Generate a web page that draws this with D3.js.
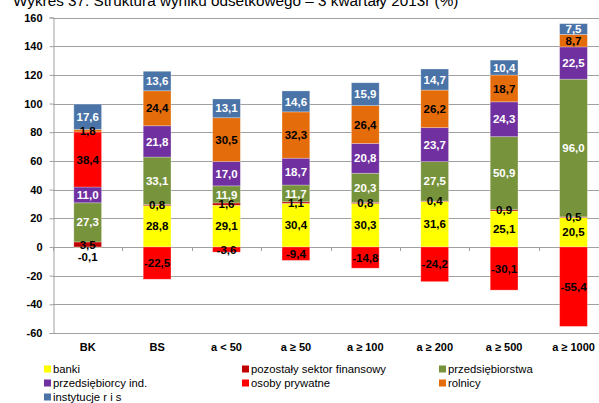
<!DOCTYPE html>
<html>
<head>
<meta charset="utf-8">
<script src="https://cdn.jsdelivr.net/npm/d3@7"></script>
<style>
  html, body { margin: 0; padding: 0; background: #fff; }
  svg { display: block; }
</style>
</head>
<body>
<script>
const categories = ["BK", "BS", "a < 50", "a ≥ 50", "a ≥ 100", "a ≥ 200", "a ≥ 500", "a ≥ 1000"];
const banki = [-0.1, 28.8, 29.1, 30.4, 30.3, 31.6, 25.1, 20.5];
const pozostalySektor = [3.5, 0.8, 1.6, 1.1, 0.8, 0.4, 0.9, 0.5];
const przedsiebiorstwa = [27.3, 33.1, 11.9, 11.7, 20.3, 27.5, 50.9, 96.0];
const przedsiebiorcyInd = [11.0, 21.8, 17.0, 18.7, 20.8, 23.7, 24.3, 22.5];
const osobyPrywatne = [38.4, -22.5, -3.6, -9.4, -14.8, -24.2, -30.1, -55.4];
const rolnicy = [1.8, 24.4, 30.5, 32.3, 26.4, 26.2, 18.7, 8.7];
const instytucje = [17.6, 13.6, 13.1, 14.6, 15.9, 14.7, 10.4, 7.5];
const seriesNames = ["banki", "pozostały sektor finansowy", "przedsiębiorstwa", "przedsiębiorcy ind.", "osoby prywatne", "rolnicy", "instytucje r i s"];
const seriesColors = ["#FFFF00", "#C00000", "#77933C", "#7030A0", "#FF0000", "#E46C0A", "#4A74A8"];
const labelColors = ["#000", "#000", "#fff", "#fff", "#000", "#000", "#fff"];
const yTicks = [-60, -40, -20, 0, 20, 40, 60, 80, 100, 120, 140, 160];
const title = "Wykres 37. Struktura wyniku odsetkowego – 3 kwartały 2013r (%)";

(function () {
const seriesValues = [banki, pozostalySektor, przedsiebiorstwa, przedsiebiorcyInd, osobyPrywatne, rolnicy, instytucje];
const W = 599, H = 403;
const plotLeft = 53, step = 69.4, plotTop = 17.5, plotBottom = 333;

const rows = categories.map((c, i) => {
  const r = { cat: c };
  seriesNames.forEach((s, j) => r[s] = seriesValues[j][i]);
  return r;
});
const stacked = d3.stack().keys(seriesNames).offset(d3.stackOffsetDiverging)(rows);

const svg = d3.select("body").append("svg").attr("width", W).attr("height", H)
  .style("font-family", "'Liberation Sans', Arial, sans-serif");

const x = d3.scaleBand().domain(categories).range([plotLeft, plotLeft + step * categories.length]).padding(0);
const y = d3.scaleLinear().domain([-60, 160]).range([plotBottom, plotTop]);
const bw = x.bandwidth() * 0.4;
const fmt = v => d3.format(".1f")(v).replace(".", ",").replace("−", "-");

// title (cut at top)
svg.append("text").attr("x", 13).attr("y", 6).attr("font-size", 15.3).attr("fill", "#000")
  .text(title);

// gridlines
svg.append("g").selectAll("line").data(yTicks).join("line")
  .attr("x1", plotLeft).attr("x2", W).attr("y1", d => Math.round(y(d)) + 0.5).attr("y2", d => Math.round(y(d)) + 0.5)
  .attr("stroke", "#A0A0A0").attr("stroke-width", 1);

// y axis
const yAxis = svg.append("g").attr("transform", `translate(${plotLeft + 0.5},0)`)
  .call(d3.axisLeft(y).tickValues(yTicks).tickSize(4).tickPadding(7).tickFormat(d3.format("d")));
yAxis.select(".domain").attr("stroke", "#A0A0A0");
yAxis.selectAll(".tick line").attr("stroke", "#A0A0A0");
yAxis.selectAll(".tick text").attr("font-size", 11).attr("font-weight", "bold").attr("fill", "#000")
  .attr("font-family", "'Liberation Sans', Arial, sans-serif").text(d => d3.format("d")(d).replace("−", "-"));

// category ticks at zero line
const bounds = categories.map(c => x(c)).concat([x(categories[categories.length - 1]) + x.bandwidth()]);
svg.append("g").selectAll("line").data(bounds).join("line")
  .attr("x1", d => Math.round(d) + 0.5).attr("x2", d => Math.round(d) + 0.5)
  .attr("y1", y(0)).attr("y2", y(0) + 4).attr("stroke", "#A0A0A0");

// bars
const g = svg.append("g");
stacked.forEach((s, j) => {
  g.selectAll(null).data(s).join("rect")
    .attr("x", d => x(d.data.cat) + (x.bandwidth() - bw) / 2)
    .attr("width", bw)
    .attr("y", d => y(Math.max(d[0], d[1])))
    .attr("height", d => Math.abs(y(d[0]) - y(d[1])))
    .attr("fill", seriesColors[j])
    .attr("stroke", "rgba(255,255,255,0.35)").attr("stroke-width", 0.8);
});

// labels
const lg = svg.append("g").attr("font-size", 11.5).attr("font-weight", "bold").attr("text-anchor", "middle");
stacked.forEach((s, j) => {
  s.forEach((d, i) => {
    const v = seriesValues[j][i];
    let cy = y((d[0] + d[1]) / 2);
    if (v < 0 && Math.abs(v) < 1) cy = y(d[1]) + 10;
    lg.append("text")
      .attr("x", x(d.data.cat) + x.bandwidth() / 2)
      .attr("y", cy).attr("dy", "0.36em")
      .attr("fill", labelColors[j])
      .text(fmt(v));
  });
});

// category labels
svg.append("g").selectAll("text").data(categories).join("text")
  .attr("x", d => x(d) + x.bandwidth() / 2).attr("y", 351)
  .attr("text-anchor", "middle").attr("font-size", 11).attr("font-weight", "bold").attr("fill", "#000")
  .text(d => d);

// legend
const legX = [44, 242, 439], legY = [369, 383, 397];
const leg = svg.append("g");
seriesNames.forEach((s, j) => {
  const cx = legX[j % 3], cy = legY[Math.floor(j / 3)];
  leg.append("rect").attr("x", cx).attr("y", cy - 3.5).attr("width", 7).attr("height", 7).attr("fill", seriesColors[j]);
  leg.append("text").attr("x", cx + 9).attr("y", cy).attr("dy", "0.36em")
    .attr("font-size", 11.3).attr("fill", "#000").text(s);
});
})();
</script>
</body>
</html>
